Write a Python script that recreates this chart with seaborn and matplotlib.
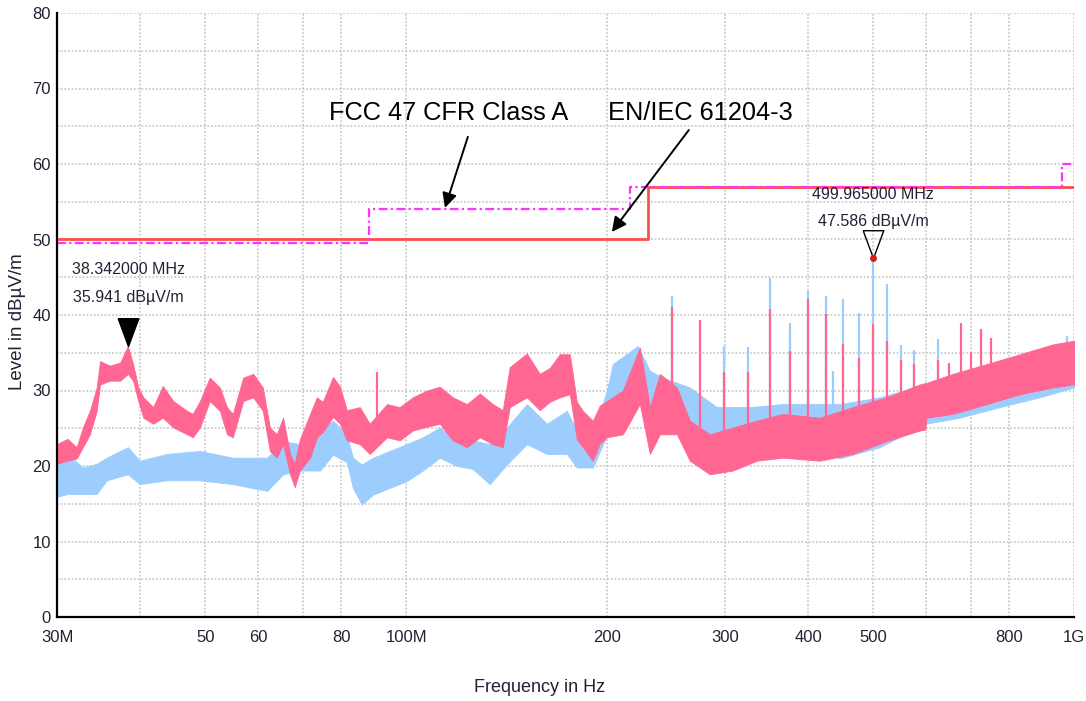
import numpy as np
import pandas as pd
import matplotlib
matplotlib.use("Agg")
import matplotlib.pyplot as plt
import seaborn as sns
from matplotlib import font_manager as fm

# ---------------- data ----------------
# measured spectrum, pink trace (frequency in MHz, upper / lower envelope in dBuV/m)
pink_freq = [30.0, 31.1, 32.1, 32.8, 33.6, 34.4, 34.8, 36.0, 37.3, 38.3, 39.0, 39.7, 40.4,
             41.8, 43.2, 44.8, 47.0, 47.9, 49.1, 50.8, 52.6, 53.9, 55.0, 57.0, 59.0, 61.0,
             62.5, 64.0, 65.4, 67.0, 68.1, 69.3, 71.8, 73.5, 75.0, 77.7, 79.6, 81.5, 85.2,
             88.2, 93.6, 97.8, 102.3, 107.4, 112.3, 117.4, 123.3, 128.9, 134.8, 139.5,
             142.9, 151.6, 158.5, 164.1, 169.8, 175.8, 180.1, 183.9, 190.3, 195.0, 199.7,
             211.1, 223.8, 231.7, 239.8, 254.3, 265.9, 284.9, 308.4, 335.0, 366.4, 416.2,
             466.4, 524.4, 587.5, 599.0, 601.0, 658.3, 740.1, 829.3, 929.1, 1000.0]
pink_hi = [22.9, 23.6, 22.5, 25.1, 27.3, 30.4, 33.9, 33.3, 33.7, 35.9, 33.5, 30.4, 29.1,
           27.8, 30.6, 28.6, 27.3, 26.9, 28.6, 31.7, 30.4, 27.8, 26.9, 31.7, 32.2, 30.4,
           25.1, 24.2, 26.4, 21.6, 20.3, 23.5, 26.9, 29.1, 28.5, 31.8, 30.5, 27.4, 27.8,
           25.6, 28.2, 27.8, 29.1, 30.0, 30.5, 29.1, 28.2, 29.6, 28.2, 27.4,
           33.1, 34.9, 32.2, 33.0, 34.8, 34.8, 28.5, 27.3, 26.0, 28.0, 28.6,
           30.0, 35.7, 27.8, 32.2, 30.4, 26.0, 24.2, 25.1, 26.0, 26.9, 26.4,
           27.8, 29.1, 30.8, 31.0, 31.0, 32.2, 33.5, 34.8, 36.1, 36.6]
pink_lo = [20.3, 20.7, 21.0, 22.5, 24.2, 27.3, 30.8, 31.3, 31.3, 32.2, 31.3, 28.6, 26.4,
           25.6, 26.4, 25.1, 24.2, 23.8, 25.1, 28.6, 27.3, 24.2, 23.8, 28.6, 29.1, 27.3,
           22.0, 21.1, 22.9, 18.9, 17.2, 19.4, 21.1, 23.8, 24.5, 26.5, 25.6, 23.4, 22.9,
           21.6, 23.8, 23.4, 24.7, 25.2, 25.6, 23.4, 22.5, 23.8, 22.9, 22.5,
           27.8, 29.1, 27.4, 28.5, 29.1, 29.5, 23.5, 22.5, 20.7, 23.0, 23.8,
           24.2, 28.2, 21.6, 24.2, 24.2, 20.7, 18.9, 19.4, 20.7, 21.1, 20.7,
           21.6, 23.3, 24.7, 24.8, 26.4, 26.9, 28.2, 29.5, 30.4, 30.8]

# measured spectrum, light-blue trace
blue_freq = [30.0, 31.1, 32.8, 34.4, 35.6, 38.3, 39.9, 43.8, 49.1, 55.0, 61.9, 65.4, 69.3,
             74.3, 77.7, 81.5, 83.2, 85.8, 89.2, 94.5, 100.2, 105.9, 112.3, 119.1, 125.8,
             133.4, 141.5, 151.6, 162.4, 174.0, 180.1, 190.3, 199.7, 203.9, 222.3, 231.7,
             242.3, 265.9, 291.8, 327.0, 366.4, 445.9, 511.9, 599.8, 674.4, 774.1, 888.4,
             1000.0]
blue_hi = [21.1, 21.6, 19.8, 20.3, 21.1, 22.5, 20.7, 21.6, 22.0, 21.1, 21.1, 23.3, 22.9,
           24.7, 26.0, 24.2, 21.1, 20.2, 21.1, 22.0, 22.9, 23.8, 25.1, 23.4, 23.4,
           22.9, 25.1, 28.2, 25.6, 27.3, 24.7, 23.8, 30.0, 33.5, 35.9, 32.6,
           31.7, 30.4, 27.8, 27.8, 28.2, 28.2, 29.1, 30.8, 31.7, 33.0, 35.2, 36.1]
blue_lo = [15.9, 16.3, 16.3, 16.3, 18.1, 18.9, 17.6, 18.1, 18.1, 17.6, 16.7, 18.9, 19.4,
           19.4, 21.5, 20.5, 17.1, 14.9, 16.2, 17.1, 18.0, 19.4, 21.1, 20.0, 19.6,
           17.6, 20.2, 22.9, 21.6, 21.6, 19.8, 19.8, 24.0, 27.8, 30.0, 26.9,
           26.9, 24.7, 23.8, 23.3, 23.8, 21.0, 22.5, 25.6, 26.4, 27.8, 29.1, 30.4]

# narrow-band emissions (MHz, peak dBuV/m)
pink_spike_freq = [90.4, 249.9, 275.2, 299.0, 324.8, 350.3, 375.3, 399.3, 424.9, 450.6,
                   476.1, 499.7, 524.4, 550.3, 575.5, 625.1, 649.3, 676.7, 700.4, 725.0,
                   750.4, 795.7]
pink_spike_level = [32.4, 41.0, 39.3, 32.4, 32.4, 40.8, 35.2, 42.1, 40.1, 36.1,
                    34.3, 38.8, 36.5, 34.1, 33.5, 34.1, 33.7, 38.9, 35.1, 38.2,
                    37.0, 34.1]
blue_spike_freq = [249.9, 299.0, 324.8, 350.3, 375.3, 399.3, 424.9, 435.3, 450.6, 476.1,
                   499.965, 524.4, 550.3, 575.5, 625.1, 975.0]
blue_spike_level = [42.5, 35.9, 35.7, 44.9, 39.0, 43.2, 42.5, 32.6, 42.1, 40.2,
                    47.586, 44.1, 36.0, 35.3, 36.8, 37.2]

# limit lines
en_freq = [30, 230, 1000]
en_level = [50, 57, 57]
fcc_freq = [30, 88, 216, 960, 1000]
fcc_level = [49.5, 54, 56.9, 60, 60]

# marker readouts
marker_freq = [38.342, 499.965]
marker_level = [35.941, 47.586]
marker_text = ["38.342000 MHz\n35.941 dB\u00b5V/m", "499.965000 MHz\n47.586 dB\u00b5V/m"]

# axes ticks
x_ticks = [30, 40, 50, 60, 70, 80, 100, 200, 300, 400, 500, 600, 700, 800, 1000]
x_ticklabels = ["30M", "", "50", "60", "", "80", "100M", "200", "300", "400", "500",
                "", "", "800", "1G"]
y_ticks = list(range(0, 81, 5))
y_ticklabels = [str(v) if v % 10 == 0 else "" for v in y_ticks]

# ---------------- styling ----------------
sns.set_theme(style="white")


def have(name):
    try:
        fm.findfont(fm.FontProperties(family=name), fallback_to_default=False)
        return True
    except Exception:
        return False


narrow = "Liberation Sans Narrow" if have("Liberation Sans Narrow") else "Liberation Sans"
plt.rcParams["font.family"] = [narrow, "DejaVu Sans"]

PINK = "#ff6692"
BLUE = "#9dcdfd"
RED = "#ff4c4c"
MAGENTA = "#ff33ff"
TXT = "#222233"

fig = plt.figure(figsize=(10.86, 7.01), dpi=100)
fig.patch.set_facecolor("white")
ax = fig.add_axes([57 / 1086, 1 - 617 / 701, (1074 - 57) / 1086, (617 - 13) / 701])
ax.set_facecolor("white")
ax.set_xscale("log")
ax.set_xlim(30, 1000)
ax.set_ylim(0, 80)


def base_of(freqs, band_f, band_lo):
    # spikes rise out of the noise floor of their own trace
    return np.interp(np.log10(freqs), np.log10(band_f), band_lo) + 1.0


# traces
ax.fill_between(blue_freq, blue_lo, blue_hi, color=BLUE, lw=0.6, zorder=2)
ax.vlines(blue_spike_freq, base_of(blue_spike_freq, blue_freq, blue_lo), blue_spike_level,
          color=BLUE, lw=1.6, zorder=2.1)
ax.fill_between(pink_freq, pink_lo, pink_hi, color=PINK, lw=0.6, zorder=3)
ax.vlines(pink_spike_freq, base_of(pink_spike_freq, pink_freq, pink_lo), pink_spike_level,
          color=PINK, lw=1.6, zorder=3.1)

# limit lines
sns.lineplot(x=en_freq, y=en_level, ax=ax, drawstyle="steps-post", estimator=None,
             sort=False, color=RED, lw=2.0, zorder=4)
sns.lineplot(x=fcc_freq, y=fcc_level, ax=ax, drawstyle="steps-post", estimator=None,
             sort=False, color=MAGENTA, lw=1.6, zorder=5, dashes=[(4, 1.5, 1, 1.5)],
             style=[0] * len(fcc_freq), legend=False)

# markers (triangle with its tip on the measured point)
tri = [(-0.37, 1.0), (0.37, 1.0), (0.0, 0.0), (-0.37, 1.0)]
ax.plot(marker_freq[0], marker_level[0], marker=tri, ms=40, color="black",
        ls="none", zorder=6)
ax.plot(marker_freq[1], marker_level[1], marker=tri, ms=40, mfc="none", mec="black",
        mew=1.0, ls="none", zorder=6)
ax.plot(marker_freq[1], marker_level[1], "o", ms=4, color="#d02020", zorder=7)

ax.annotate(marker_text[0], xy=(marker_freq[0], marker_level[0]), xytext=(0, 29),
            textcoords="offset points", ha="center", va="bottom", fontsize=11.5,
            color=TXT, linespacing=2.1, zorder=8)
ax.annotate(marker_text[1], xy=(marker_freq[1], marker_level[1]), xytext=(0, 21),
            textcoords="offset points", ha="center", va="bottom", fontsize=11.5,
            color=TXT, linespacing=1.95, zorder=8)

# standard call-outs
arrow = dict(arrowstyle="-|>", color="black", lw=1.4, mutation_scale=22,
             shrinkA=0, shrinkB=0)
ax.annotate("", xy=(114.3, 54.2), xytext=(123.7, 63.6), arrowprops=arrow, zorder=8)
ax.annotate("", xy=(203.2, 51.0), xytext=(265.0, 64.5), arrowprops=arrow, zorder=8)
ax.text(115.9, 66.8, "FCC 47 CFR Class A", ha="center", va="center", fontsize=18.3,
        family=["Liberation Sans", "DejaVu Sans"], color="black", zorder=8)
ax.text(276.0, 66.8, "EN/IEC 61204-3", ha="center", va="center", fontsize=18.3,
        family=["Liberation Sans", "DejaVu Sans"], color="black", zorder=8)

# axes, ticks, grid
ax.set_xticks(x_ticks)
ax.set_xticklabels(x_ticklabels)
ax.xaxis.set_minor_locator(matplotlib.ticker.NullLocator())
ax.set_yticks(y_ticks)
ax.set_yticklabels(y_ticklabels)
ax.tick_params(axis="both", which="major", direction="inout", length=7, width=1.1,
               color="black", labelsize=12, labelcolor=TXT)
ax.tick_params(axis="x", pad=6)
ax.tick_params(axis="y", pad=1)
ax.grid(True, which="major", ls=(0, (1.2, 1.2)), color="#c4c4c4", lw=1.1, zorder=0)
ax.set_axisbelow(True)
for side in ("top", "right"):
    ax.spines[side].set_visible(False)
for side in ("left", "bottom"):
    ax.spines[side].set_color("black")
    ax.spines[side].set_linewidth(1.6)
    ax.spines[side].set_zorder(9)

ax.set_xlabel("")
ax.set_ylabel("")
fig.text(540 / 1086, 1 - 688 / 701, "Frequency in Hz", ha="center", va="center",
         fontsize=13, color=TXT)
fig.text(17 / 1086, 1 - 322 / 701, "Level in dB\u00b5V/m", ha="center", va="center",
         rotation=90, fontsize=13.5, family=["Liberation Sans", "DejaVu Sans"], color=TXT)

fig.savefig("out.png", dpi=100, facecolor="white")
